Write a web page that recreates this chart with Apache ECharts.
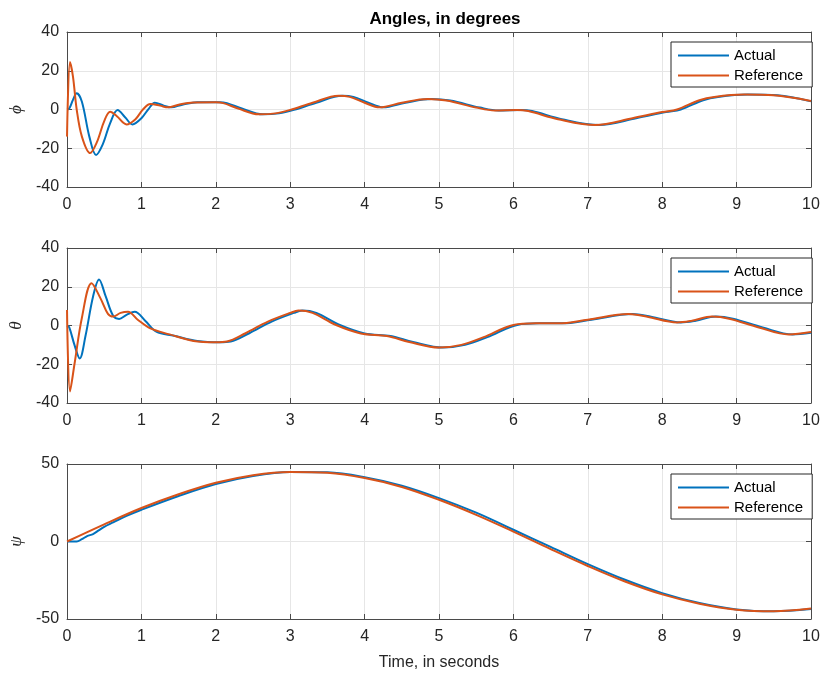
<!DOCTYPE html>
<html>
<head>
<meta charset="utf-8">
<script src="https://cdn.jsdelivr.net/npm/echarts@6/dist/echarts.min.js"></script>
<style>html,body{margin:0;padding:0;background:#fff}#c{width:824px;height:675px}</style>
</head>
<body>
<div id="c"></div>
<script>
// ---------- data ----------
const xTicks = [0,1,2,3,4,5,6,7,8,9,10];

const phiActT = [0,0.03,0.08,0.13,0.2,0.3,0.39,0.48,0.58,0.68,0.78,0.88,1.0,1.1,1.18,1.3,1.4,1.55,1.75,2.05,2.15,2.35,2.63,2.85,3.05,3.35,3.7,3.85,4.05,4.25,4.55,4.9,5.15,5.55,5.8,6.1,6.25,6.65,7.15,7.65,8.05,8.25,8.55,8.75,9.15,9.55,10];
const phiActV = [0,0.5,5,8.4,4,-14,-23.5,-18,-7,-0.3,-4,-7.7,-4.5,0.5,3.5,2,1.1,2.5,3.8,3.8,3.3,0.5,-2.5,-2,-0.2,3.5,7.1,6.5,3.5,1.1,3.5,5.4,4.6,1.0,-0.5,-0.2,-0.8,-5,-8,-4.5,-1.3,0,4.8,6.5,7.7,7.3,4.2];
const phiRefT = [0,0.04,0.08,0.13,0.2,0.31,0.4,0.5,0.58,0.67,0.8,0.92,1.02,1.12,1.25,1.36,1.5,1.7,2.0,2.1,2.3,2.58,2.8,3.0,3.3,3.65,3.8,4.0,4.2,4.5,4.85,5.1,5.5,5.75,6.05,6.2,6.6,7.1,7.6,8.0,8.2,8.5,8.7,9.1,9.5,10];
const phiRefV = [-14,24.5,17,0,-14,-22.5,-17,-6,-1.2,-3.5,-7.7,-5,0,2.8,2,1.1,2.5,3.6,3.7,3.3,0.5,-2.5,-2,-0.2,3.5,7.1,6.5,3.5,1.1,3.5,5.4,4.6,1.0,-0.5,-0.2,-0.8,-5,-8,-4.5,-1.3,0,4.8,6.5,7.7,7.3,4.4];

const thActT = [0,0.03,0.1,0.17,0.25,0.35,0.43,0.52,0.62,0.7,0.8,0.91,1.05,1.2,1.44,1.75,2.05,2.2,2.45,2.75,3.05,3.16,3.35,3.65,4.0,4.35,4.65,5.05,5.35,5.65,6.05,6.35,6.65,7.05,7.6,7.85,8.25,8.45,8.72,8.95,9.35,9.75,10];
const thActV = [0,-1,-10,-17,-5,15,23.8,15,5,3.4,5.5,7.1,2.5,-3.2,-5.3,-8,-8.7,-8.3,-4,2,6.5,7.7,6.5,0.5,-4.1,-5.4,-8.5,-11.4,-10,-6,0.3,1.1,1.1,3,5.9,4.5,1.6,2.5,4.6,3.5,-1,-4.6,-3.8];
const thRefT = [0,0.04,0.1,0.2,0.33,0.45,0.55,0.62,0.72,0.82,0.95,1.12,1.38,1.7,2.0,2.15,2.4,2.7,3.0,3.11,3.3,3.6,3.95,4.3,4.6,5.0,5.3,5.6,6.0,6.3,6.6,7.0,7.55,7.8,8.2,8.4,8.67,8.9,9.3,9.7,10];
const thRefV = [8,-34,-20,4,21.8,14,6,4.6,6.5,7.1,3,-1.5,-4.6,-8,-8.7,-8.3,-4,2,6.5,7.7,6.5,0.5,-4.1,-5.4,-8.5,-11.4,-10,-6,0.3,1.1,1.1,3,5.9,4.5,1.6,2.5,4.6,3.5,-1,-4.6,-3.4];

const psiActT = [0,0.13,0.2,0.27,0.35,0.42,0.5,0.62,0.8,1.0,1.5,2.0,2.5,3.0,3.5,4.0,4.5,5.0,5.5,6.0,6.5,7.0,7.5,8.0,8.5,9.0,9.5,10];
const psiActV = [0,0,1.5,3.5,4.8,7,9.5,12.3,16.5,20.5,29.4,37.1,42.3,44.8,44.6,41.5,36,28,18.6,7.6,-3.5,-14.6,-24.7,-33.3,-39.7,-43.8,-45,-43.6];
const psiRefT = [0,0.5,1.0,1.5,2.0,2.5,3.0,3.5,4.0,4.5,5.0,5.5,6.0,6.5,7.0,7.5,8.0,8.5,9.0,9.5,10];
const psiRefV = [0,11.1,21.6,30.5,37.9,42.8,44.9,44.3,40.9,35.2,26.9,17.2,6.4,-4.9,-15.8,-25.8,-34.1,-40.1,-44.0,-45.0,-43.2];

const yNames = ['\u03d5','\u03b8','\u03c8'];
const seriesNames = ['Actual','Reference'];
// -------------------------------------------------

const BLUE = '#0072BD', ORANGE = '#D95319';
const AX = '#4a4a4a', GRIDC = '#e6e6e6';
const FONT = '"Liberation Sans", Arial, Helvetica, sans-serif';
const zip = (t, v) => t.map((x, i) => [x, v[i]]);

const tops = [32, 248, 464];
const H = 155;
const yRanges = [[-40, 40, 20], [-40, 40, 20], [-50, 50, 50]];
const grids = [], xAxes = [], yAxes = [], legends = [];

tops.forEach((top, i) => {
  grids.push({ left: 67, right: 13, top: top, height: H, containLabel: false });
  const isLast = i === 2;
  xAxes.push({
    type: 'value', gridIndex: i, min: 0, max: 10, interval: 1, position: 'bottom',
    axisLine: { show: true, onZero: false, lineStyle: { color: AX, width: 1 } },
    axisTick: { show: true, inside: true, length: 5, lineStyle: { color: AX } },
    axisLabel: { show: true, fontSize: 16, color: '#262626', fontFamily: FONT, margin: 10 },
    splitLine: { show: true, lineStyle: { color: GRIDC, width: 1 } },
    name: isLast ? 'Time, in seconds' : '', nameLocation: 'middle', nameGap: 36,
    nameTextStyle: { fontSize: 16, color: '#262626', fontFamily: FONT }
  });
  xAxes.push({
    type: 'value', gridIndex: i, min: 0, max: 10, interval: 1, position: 'top',
    axisLine: { show: true, onZero: false, lineStyle: { color: AX, width: 1 } },
    axisTick: { show: true, inside: true, length: 5, lineStyle: { color: AX } },
    axisLabel: { show: false }, splitLine: { show: false }
  });
  const [mn, mx, iv] = yRanges[i];
  yAxes.push({
    type: 'value', gridIndex: i, min: mn, max: mx, interval: iv, position: 'left',
    axisLine: { show: true, onZero: false, lineStyle: { color: AX, width: 1 } },
    axisTick: { show: true, inside: true, length: 5, lineStyle: { color: AX } },
    axisLabel: { show: true, fontSize: 16, color: '#262626', fontFamily: FONT, margin: 8 },
    splitLine: { show: true, lineStyle: { color: GRIDC, width: 1 } },
    name: yNames[i], nameLocation: 'middle', nameGap: 38, nameRotate: 90,
    nameTextStyle: { fontSize: 17, color: '#262626', fontStyle: 'italic', fontFamily: '"Liberation Serif", "DejaVu Serif", serif' }
  });
  yAxes.push({
    type: 'value', gridIndex: i, min: mn, max: mx, interval: iv, position: 'right',
    axisLine: { show: true, onZero: false, lineStyle: { color: AX, width: 1 } },
    axisTick: { show: true, inside: true, length: 5, lineStyle: { color: AX } },
    axisLabel: { show: false }, splitLine: { show: false }
  });
  legends.push({
    data: seriesNames, orient: 'vertical', left: 671, top: top + 10,
    icon: 'rect', itemWidth: 51, itemHeight: 2, itemGap: 5,
    padding: [6, 9, 4, 7],
    backgroundColor: '#fff', borderColor: '#262626', borderWidth: 1, borderRadius: 0,
    textStyle: { fontSize: 15, color: '#000', fontFamily: FONT, lineHeight: 15 },
    selectedMode: false
  });
});

const dataSets = [
  [zip(phiActT, phiActV), zip(phiRefT, phiRefV)],
  [zip(thActT, thActV), zip(thRefT, thRefV)],
  [zip(psiActT, psiActV), zip(psiRefT, psiRefV)]
];
const series = [];
dataSets.forEach((pair, i) => {
  pair.forEach((d, k) => {
    series.push({
      name: seriesNames[k], type: 'line', xAxisIndex: i * 2, yAxisIndex: i * 2,
      data: d, showSymbol: false, symbol: 'none', smooth: 0.35,
      color: k === 0 ? BLUE : ORANGE,
      lineStyle: { width: 2, color: k === 0 ? BLUE : ORANGE },
      z: k === 0 ? 3 : 4, animation: false, clip: true
    });
  });
});

const chart = echarts.init(document.getElementById('c'), null, { renderer: 'canvas' });
chart.setOption({
  animation: false,
  backgroundColor: '#fff',
  title: {
    text: 'Angles, in degrees', left: 440, top: 6, textAlign: 'center',
    textStyle: { fontSize: 17, fontWeight: 'bold', color: '#000', fontFamily: FONT }
  },
  grid: grids, xAxis: xAxes, yAxis: yAxes, legend: legends, series: series
});
</script>
</body>
</html>
